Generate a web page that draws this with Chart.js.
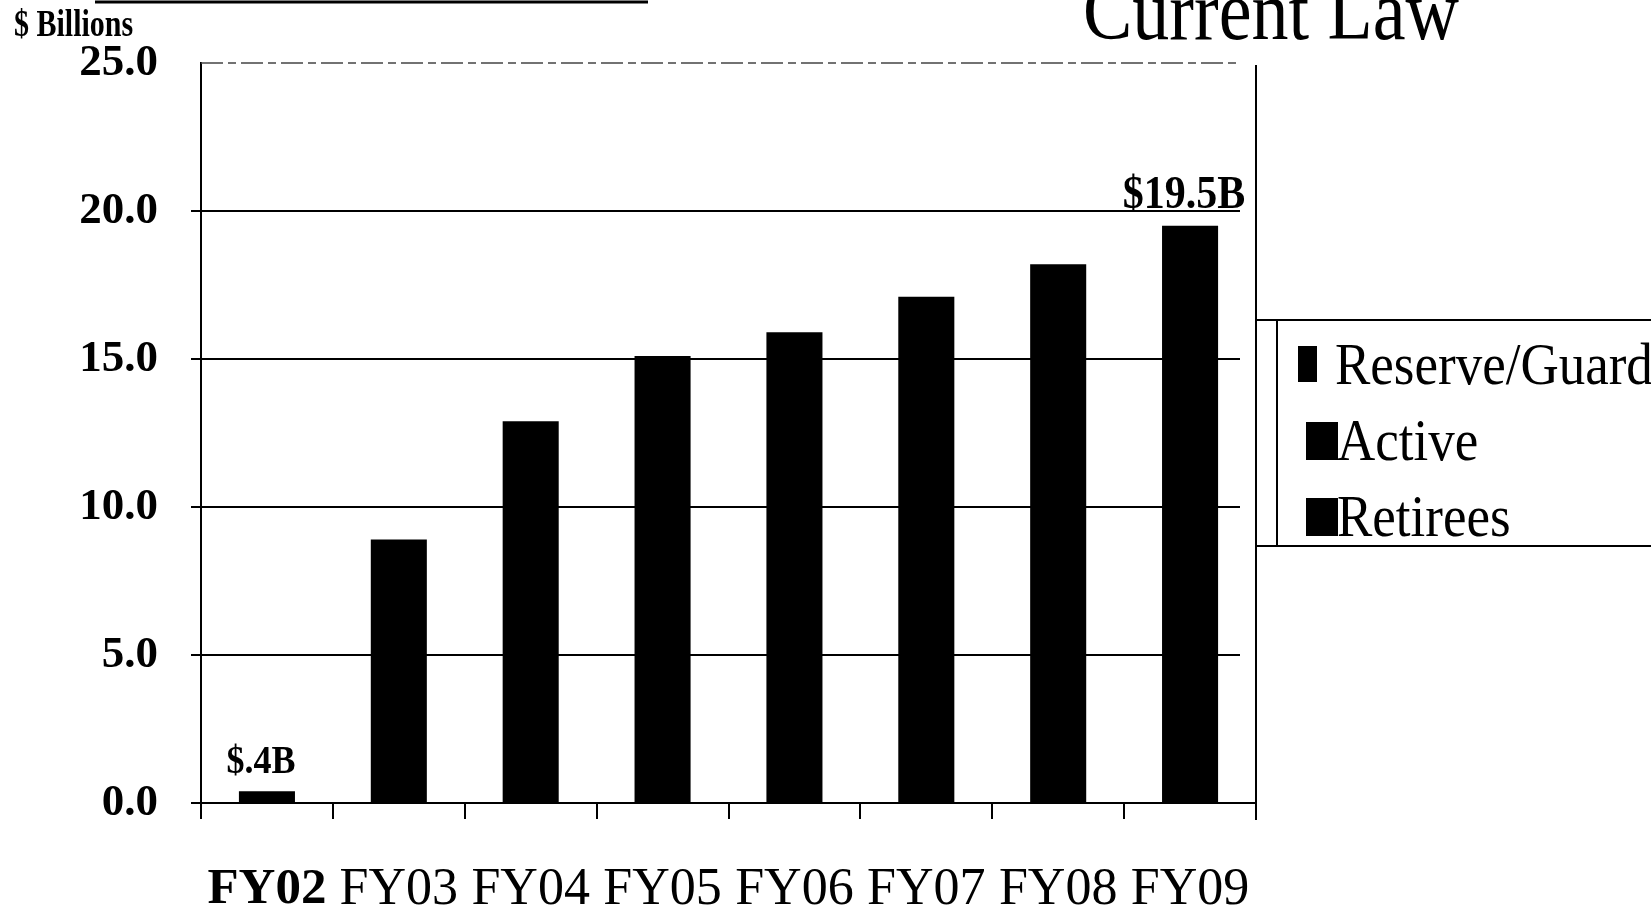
<!DOCTYPE html>
<html>
<head>
<meta charset="utf-8">
<title>Current Law</title>
<script src="https://cdn.jsdelivr.net/npm/chart.js@4.4.0/dist/chart.umd.min.js"></script>
<style>
  html, body { margin: 0; padding: 0; background: #fff; }
  canvas { display: block; }
</style>
</head>
<body>
<canvas id="costChart" width="1651" height="912"></canvas>
<script>
// Fiscal years and cost ($ billions)
const years = ['FY02', 'FY03', 'FY04', 'FY05', 'FY06', 'FY07', 'FY08', 'FY09'];
const costs = [0.4, 8.9, 12.9, 15.1, 15.9, 17.1, 18.2, 19.5];
const costNotes = ['$.4B', '', '', '', '', '', '', '$19.5B'];
const legendNames = ['Reserve/Guard', 'Active', 'Retirees'];
const yMax = 25;
const yStep = 5;

const SERIF = '"Liberation Serif", "Times New Roman", serif';

// text drawn a bit taller than wide, like the printed slide
function stretchedText(ctx, text, x, y, font, sy, align) {
    ctx.save();
    ctx.font = font;
    ctx.textAlign = align || 'left';
    ctx.textBaseline = 'alphabetic';
    ctx.translate(x, y);
    ctx.scale(1, sy);
    ctx.fillText(text, 0, 0);
    ctx.restore();
}

// horizontal grid lines stop a little short of the right frame
const gridLines = {
    id: 'gridLines',
    beforeDatasetsDraw(chart) {
        const ctx = chart.ctx;
        const area = chart.chartArea;
        const yScale = chart.scales.y;
        ctx.save();
        ctx.strokeStyle = '#000';
        ctx.lineWidth = 2;
        yScale.ticks.forEach((t) => {
            if (t.value === yMax) return;
            const y = Math.round(yScale.getPixelForValue(t.value));
            ctx.beginPath();
            ctx.moveTo(area.left, y);
            ctx.lineTo(area.right - 16, y);
            ctx.stroke();
        });
        ctx.restore();
    }
};

const decorations = {
    id: 'decorations',
    afterDraw(chart) {
        const ctx = chart.ctx;
        const area = chart.chartArea;
        const yScale = chart.scales.y;
        const frameX = area.right;
        ctx.save();
        ctx.fillStyle = '#000';
        ctx.strokeStyle = '#000';

        // rule across the top left
        ctx.lineWidth = 3;
        ctx.beginPath();
        ctx.moveTo(95, 2);
        ctx.lineTo(648, 2);
        ctx.stroke();

        stretchedText(ctx, '$ Billions', 14, 36, 'bold 30px ' + SERIF, 1.25);
        stretchedText(ctx, 'Current Law', 1271, 39, '74px ' + SERIF, 1.13, 'center');

        // dashed line at the top of the scale
        const yTop = yScale.getPixelForValue(yMax);
        ctx.lineWidth = 1.5;
        ctx.strokeStyle = '#444';
        ctx.setLineDash([22, 5, 8, 5]);
        ctx.beginPath();
        ctx.moveTo(area.left, yTop);
        ctx.lineTo(frameX - 16, yTop);
        ctx.stroke();
        ctx.setLineDash([]);

        // right frame line
        ctx.strokeStyle = '#000';
        ctx.lineWidth = 2;
        ctx.beginPath();
        ctx.moveTo(frameX, area.top + 2);
        ctx.lineTo(frameX, area.bottom + 17);
        ctx.stroke();

        // legend box
        const boxTop = 320, boxBottom = 546;
        ctx.beginPath();
        ctx.moveTo(frameX, boxTop);
        ctx.lineTo(chart.width, boxTop);
        ctx.moveTo(frameX, boxBottom);
        ctx.lineTo(chart.width, boxBottom);
        ctx.moveTo(frameX + 21, boxTop);
        ctx.lineTo(frameX + 21, boxBottom);
        ctx.stroke();

        legendNames.forEach((name, i) => {
            const base = 384 + i * 76;
            if (i === 0) {
                ctx.fillRect(frameX + 42, base - 38, 19, 36);
                stretchedText(ctx, name, frameX + 79, base, '53px ' + SERIF, 1.13);
            } else {
                ctx.fillRect(frameX + 50, base - 38, 32, 38);
                stretchedText(ctx, name, frameX + 81, base, '53px ' + SERIF, 1.13);
            }
        });

        // value notes over the first and last bars
        const bars = chart.getDatasetMeta(0).data;
        costNotes.forEach((note, i) => {
            if (!note) return;
            const size = i === costs.length - 1 ? 42 : 36;
            stretchedText(ctx, note, bars[i].x - 6, bars[i].y - 18, 'bold ' + size + 'px ' + SERIF, 1.12, 'center');
        });
        ctx.restore();
    }
};

new Chart(document.getElementById('costChart'), {
    type: 'bar',
    data: {
        labels: years,
        datasets: [{
            label: 'Cost',
            data: costs,
            backgroundColor: '#000',
            borderWidth: 0,
            barPercentage: 0.85,
            categoryPercentage: 0.5
        }]
    },
    options: {
        responsive: false,
        animation: false,
        layout: { padding: { top: 63, right: 395, left: 0, bottom: 0 } },
        plugins: {
            legend: { display: false },
            tooltip: { enabled: false }
        },
        scales: {
            x: {
                offset: true,
                grid: {
                    offset: true,
                    drawOnChartArea: false,
                    drawTicks: true,
                    tickLength: 16,
                    color: '#000',
                    lineWidth: 2
                },
                border: { display: true, color: '#000', width: 2 },
                ticks: {
                    color: '#000',
                    padding: 40,
                    maxRotation: 0,
                    autoSkip: false,
                    font: (c) => ({ family: SERIF, size: c.index === 0 ? 51 : 52, weight: c.index === 0 ? 'bold' : 'normal' })
                },
                afterFit(scale) { scale.height = 109; }
            },
            y: {
                min: 0,
                max: yMax,
                ticks: {
                    stepSize: yStep,
                    color: '#000',
                    padding: 33,
                    font: { family: SERIF, size: 45, weight: 'bold' },
                    callback: (v) => v.toFixed(1)
                },
                grid: {
                    drawOnChartArea: false,
                    color: (c) => (c.tick && c.tick.value === yMax ? 'rgba(0,0,0,0)' : '#000'),
                    lineWidth: 2,
                    tickLength: 10
                },
                border: { display: true, color: '#000', width: 2 },
                afterFit(scale) { scale.width = 201; }
            }
        }
    },
    plugins: [gridLines, decorations]
});
</script>
</body>
</html>
